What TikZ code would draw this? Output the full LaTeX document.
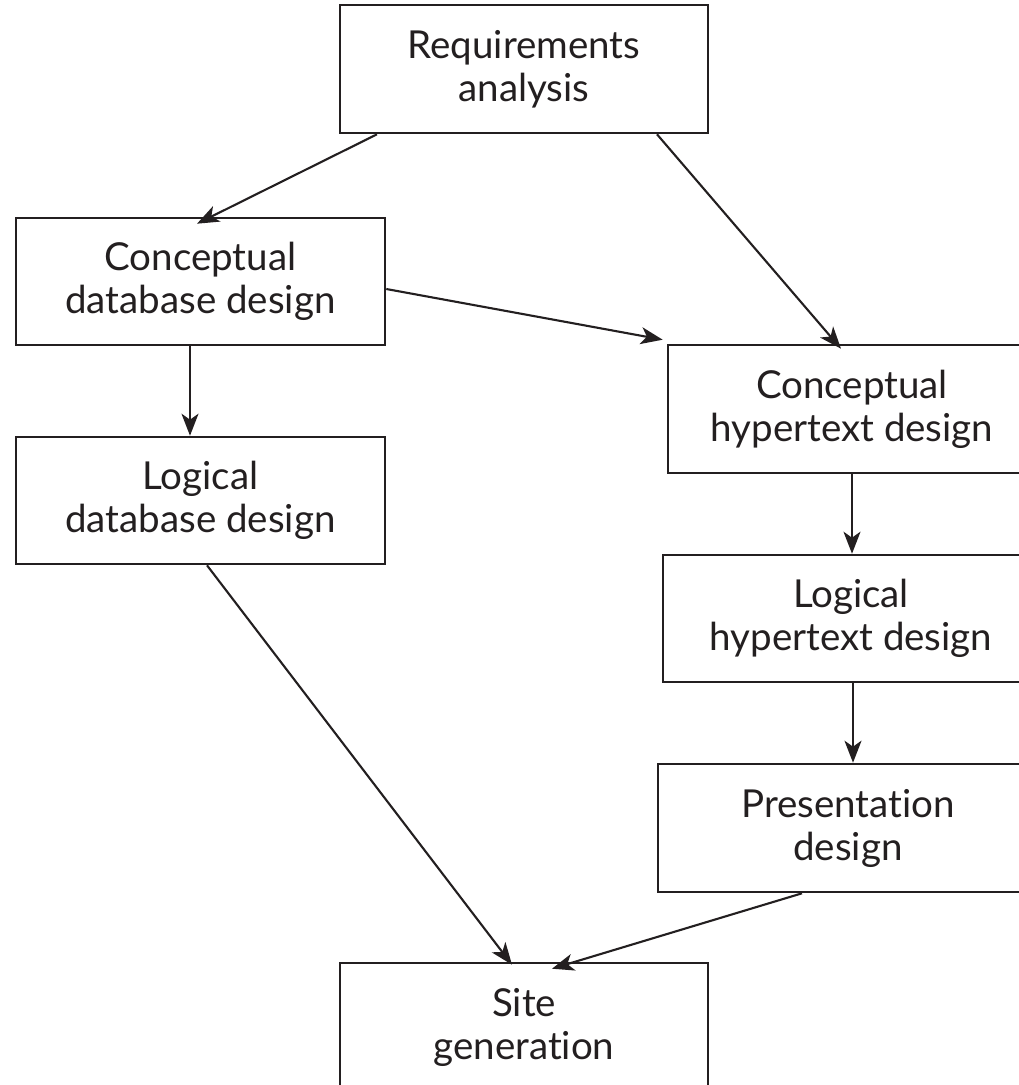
\documentclass[tikz,border=0pt]{standalone}
\usepackage{fontspec}
\setmainfont{Lato}[Ligatures=NoCommon]
\usetikzlibrary{arrows.meta}
\definecolor{ink}{HTML}{231F20}
\begin{document}
\begin{tikzpicture}[x=1pt,y=-1pt,
  box/.style={draw=ink, line width=2.6pt, minimum width=368pt, minimum height=128pt,
    align=center, inner sep=0pt, text=ink,
    font=\fontsize{38.5}{43}\selectfont},
  arr/.style={draw=ink, line width=2.1pt,
    -{Stealth[length=22pt, width=17pt, inset=6pt]}}]
\clip (0,0) rectangle (1019,1085);
\fill[white] (0,0) rectangle (1019,1085);

\node[box] (req)  at (524,69)    {Requirements\\analysis};
\node[box, minimum width=369pt, minimum height=127pt] (cdb) at (200.5,281.5) {Conceptual\\database design};
\node[box, minimum width=369pt, minimum height=127pt] (ldb) at (200.5,500.5) {Logical\\database design};
\node[box] (chy)  at (852,409)   {Conceptual\\hypertext design};
\node[box, minimum width=376pt, minimum height=127pt] (lhy) at (851,618.5) {Logical\\hypertext design};
\node[box, minimum width=380pt] (pres) at (848,828) {Presentation\\design};
\node[box] (site) at (524,1027)  {Site\\generation};

\draw[arr] ([xshift=-147pt]req.south) -- ([xshift=-3.5pt,yshift=-7pt]cdb.north);
\draw[arr] ([xshift=133pt]req.south) -- ([xshift=-11pt,yshift=-5pt]chy.north);
\draw[arr] ([yshift=-7.5pt]cdb.east) -- ([xshift=-4pt,yshift=4pt]chy.north west);
\draw[arr] ([xshift=-10.5pt]cdb.south) -- ([xshift=-10.5pt]ldb.north);
\draw[arr] (chy.south) -- (chy.south |- lhy.north);
\draw[arr] ([xshift=2pt]lhy.south) -- ([xshift=2pt]lhy.south |- pres.north);
\draw[arr] ([xshift=6.5pt]ldb.south) -- ([xshift=-12pt,yshift=-3pt]site.north);
\draw[arr] ([xshift=-46pt]pres.south) -- ([xshift=28pt,yshift=-7pt]site.north);
\end{tikzpicture}
\end{document}
